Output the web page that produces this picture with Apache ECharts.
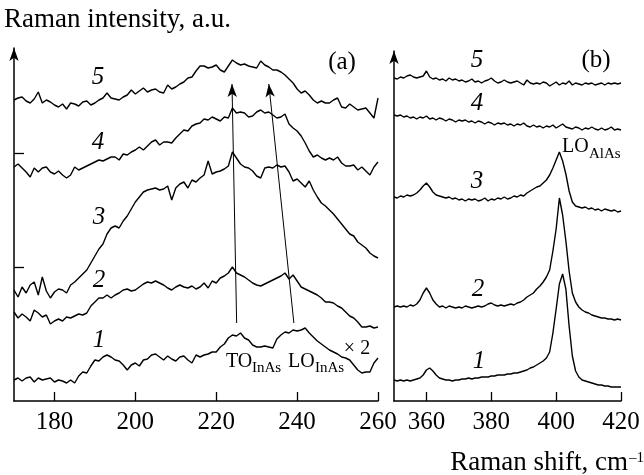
<!DOCTYPE html>
<html><head><meta charset="utf-8">
<script src="https://cdn.jsdelivr.net/npm/echarts@6/dist/echarts.min.js"></script>
<style>html,body{margin:0;padding:0;background:#fff}#c{width:644px;height:475px}</style>
</head><body><div id="c"></div><script>
// ---------- Panel (a): Raman shift 170..260 cm-1 ----------
const shiftA = [170,171,172,173,174,175,176,177,178,179,180,181,182,183,184,185,186,187,188,189,
190,191,192,193,194,195,196,197,198,199,200,201,202,203,204,205,206,207,208,209,
210,211,212,213,214,215,216,217,218,219,220,221,222,223,224,225,226,227,228,229,
230,231,232,233,234,235,236,237,238,239,240,241,242,243,244,245,246,247,248,249,
250,251,252,253,254,255,256,257,258,259,260];
const a1 = [21,23,20,23,24,19,23,21,22,23,19,21,20,18,21,18,25,29,28,35,
41,40,44,46,44,41,40,36,31,36,38,35,41,42,46,47,44,41,45,42,
40,44,45,41,38,46,44,46,47,49,49,54,57,63,66,65,68,63,61,56,
54,54,55,54,53,62,66,69,68,71,70,71,73,68,64,60,57,54,51,49,
47,44,43,41,36,31,28,29,29,38,43];
const a2 = [89,83,87,84,80,91,88,84,86,77,80,82,80,84,83,85,87,86,88,95,
99,103,103,106,103,106,108,111,112,110,111,114,117,119,118,120,118,116,113,111,
114,116,114,113,115,112,114,118,113,120,118,123,125,128,134,128,126,124,121,118,
116,115,117,119,121,123,125,128,122,126,120,114,112,110,108,106,103,99,99,98,
95,93,89,85,83,79,74,74,75,73,74];
const a3 = [111,104,114,108,116,119,106,124,110,103,109,112,111,108,116,119,123,127,131,138,
145,152,157,167,173,175,173,180,185,192,199,204,209,211,212,213,211,212,215,201,
213,217,219,213,221,219,223,226,240,227,229,230,232,235,249,243,237,234,233,230,
225,223,233,234,233,236,234,235,229,220,222,218,214,220,211,204,198,195,191,187,
182,177,172,167,165,159,156,153,148,145,143];
const a4 = [234,237,233,229,224,233,229,233,234,229,227,230,226,223,226,234,231,233,235,237,
239,241,240,242,244,244,241,247,246,249,251,254,251,255,259,261,256,259,259,258,
263,267,271,270,275,277,278,282,281,284,282,280,284,283,293,288,289,288,284,285,
289,291,288,289,286,283,284,287,277,273,270,265,258,250,244,246,243,241,243,241,
244,238,235,235,236,231,234,230,226,234,239];
const a5 = [301,303,304,300,298,302,309,298,301,299,296,294,297,292,298,297,295,299,300,296,
298,301,303,308,303,302,301,304,306,311,307,310,313,309,311,312,309,308,316,312,
314,317,319,323,324,330,335,335,333,334,336,331,329,335,341,338,336,337,335,334,
333,340,336,334,331,331,329,326,322,318,312,308,310,306,301,298,300,298,298,301,
303,294,293,297,294,291,292,293,288,283,303];
const ticksA = [180,200,220,240,260];
const yTicksA = [134,248];
// annotation arrows (TO and LO of InAs) in data coordinates [shift, intensity]
const arrowTO = [[225.05,78],[223.9,317]];
const arrowLO = [[239.2,78],[233.0,317]];

// ---------- Panel (b): Raman shift 350..420 cm-1 ----------
const shiftB = [350,351,352,353,354,355,356,357,358,359,360,361,362,363,364,365,366,367,368,369,
370,371,372,373,374,375,376,377,378,379,380,381,382,383,384,385,386,387,388,389,
390,391,392,393,394,395,396,397,398,399,400,401,402,403,404,405,406,407,408,409,
410,411,412,413,414,415,416,417,418,419,420];
const b1 = [21,20,21,20,21,20,21,22,23,26,31,33,30,26,23,22,21,21,20,21,
21,22,22,23,22,23,23,24,24,24,25,25,26,26,26,27,27,28,28,29,
30,31,33,34,36,38,40,43,49,68,92,117,127,112,75,45,30,24,21,20,
19,18,17,16,16,15,15,14,14,14,14];
const b2 = [94,95,94,95,94,96,95,97,101,108,113,108,101,97,94,95,93,95,94,93,
94,93,95,94,93,94,95,94,95,97,98,96,95,96,95,96,97,96,98,99,
101,104,106,108,112,115,119,124,131,150,172,203,186,160,130,108,99,94,91,89,
88,86,85,84,83,83,82,82,81,82,81];
const b3 = [204,203,205,204,206,205,206,208,211,215,218,214,209,206,205,204,203,204,202,203,
201,202,200,202,201,202,200,201,203,200,202,201,203,202,204,202,203,205,204,206,
205,208,210,212,214,215,218,221,226,233,241,249,240,227,210,199,195,194,193,194,
192,193,191,192,190,192,191,190,191,189,190];
const b4 = [286,285,286,284,285,283,284,282,284,283,285,282,283,281,283,282,280,282,281,279,
281,280,281,279,280,278,280,279,277,279,278,276,278,277,278,276,277,275,277,276,
278,275,274,276,274,275,273,275,274,276,273,275,277,274,273,272,274,273,271,273,
272,274,272,271,273,271,272,274,271,272,271];
const b5 = [323,322,324,323,325,326,324,323,324,325,330,324,322,323,321,322,320,323,321,322,
320,321,319,320,322,319,320,318,320,321,323,320,318,319,321,319,318,319,320,318,
316,321,318,317,318,317,319,318,315,317,319,316,318,317,320,316,318,317,316,318,
317,318,316,317,318,316,318,317,318,317,318];
const ticksB = [360,380,400,420];

const curveNames = ['1','2','3','4','5'];

const serif = '"Liberation Serif", "Times New Roman", serif';
const chart = echarts.init(document.getElementById('c'), null, {renderer: 'canvas'});
const pair = (xs, ys) => xs.map((x, i) => [x, ys[i]]);
const lineSeries = (name, xs, ys, idx) => ({
  type: 'line', name: name, xAxisIndex: idx, yAxisIndex: idx,
  data: pair(xs, ys), symbol: 'none', silent: true, animation: false,
  lineStyle: {color: '#000', width: 1.4}
});

const seriesA = [a1, a2, a3, a4, a5].map((d, i) => lineSeries('a' + curveNames[i], shiftA, d, 0));
const seriesB = [b1, b2, b3, b4, b5].map((d, i) => lineSeries('b' + curveNames[i], shiftB, d, 1));
seriesA[4].markLine = {
  silent: true, symbol: ['none', 'arrow'], symbolSize: [7, 13],
  lineStyle: {color: '#000', width: 1, type: 'solid'}, label: {show: false},
  data: [
    [{coord: arrowTO[0]}, {coord: arrowTO[1]}],
    [{coord: arrowLO[0]}, {coord: arrowLO[1]}]
  ]
};

const axisLineStyle = {color: '#000', width: 1.5};
const xAxisCommon = (min, max, idx, ticks) => ({
  type: 'value', gridIndex: idx, min: min, max: max,
  axisLine: {show: true, onZero: false, lineStyle: axisLineStyle},
  axisTick: {show: true, inside: true, length: 9, customValues: ticks, lineStyle: {color: '#000', width: 1.3}},
  axisLabel: {show: true, customValues: ticks, margin: 9, color: '#000', fontFamily: serif, fontSize: 25},
  splitLine: {show: false}
});
const yAxisCommon = (max, idx, ticks) => ({
  type: 'value', gridIndex: idx, min: 0, max: max,
  axisLine: {show: true, onZero: false, lineStyle: axisLineStyle, symbol: ['none', 'arrow'], symbolSize: [7, 13]},
  axisTick: ticks ? {show: true, inside: true, length: 10, customValues: ticks, lineStyle: {color: '#000', width: 1.3}} : {show: false},
  axisLabel: {show: false},
  splitLine: {show: false}
});

const txt = (text, x, y, size, opts) => Object.assign({
  type: 'text', x: x, y: y, silent: true,
  style: Object.assign({text: text, fill: '#000', font: size + 'px ' + serif, align: 'center', verticalAlign: 'middle'}, opts || {})
});
const it = (text, x, y) => txt(text, x, y, 25, {font: 'italic 25px ' + serif});

chart.setOption({
  backgroundColor: '#fff',
  animation: false,
  grid: [
    {left: 14, top: 48, width: 364, height: 353},
    {left: 394, top: 51, width: 227, height: 350}
  ],
  xAxis: [xAxisCommon(170, 260, 0, ticksA), xAxisCommon(350, 420, 1, ticksB)],
  yAxis: [yAxisCommon(353, 0, yTicksA), yAxisCommon(350, 1, null)],
  series: seriesA.concat(seriesB),
  graphic: [
    txt('Raman intensity, a.u.', 4, 20, 27, {align: 'left'}),
    txt('Raman shift, cm', 628, 463, 27, {align: 'right'}),
    txt('\u20131', 629, 458, 15, {align: 'left'}),
    txt('(a)', 342, 62, 25),
    txt('(b)', 596, 60, 25),
    it('5', 98, 77), it('4', 98, 142), it('3', 99, 217), it('2', 99, 280), it('1', 99, 340),
    it('5', 477, 60), it('4', 477, 103), it('3', 477, 181), it('2', 478, 289), it('1', 479, 361),
    txt('TO', 226, 362, 20, {align: 'left'}),
    txt('InAs', 252, 368, 15, {align: 'left'}),
    txt('LO', 288, 362, 20, {align: 'left'}),
    txt('InAs', 315, 368, 15, {align: 'left'}),
    txt('\u00d7 2', 357, 349, 20),
    txt('LO', 562, 147, 20, {align: 'left'}),
    txt('AlAs', 589, 154, 15, {align: 'left'})
  ]
});
</script></body></html>
